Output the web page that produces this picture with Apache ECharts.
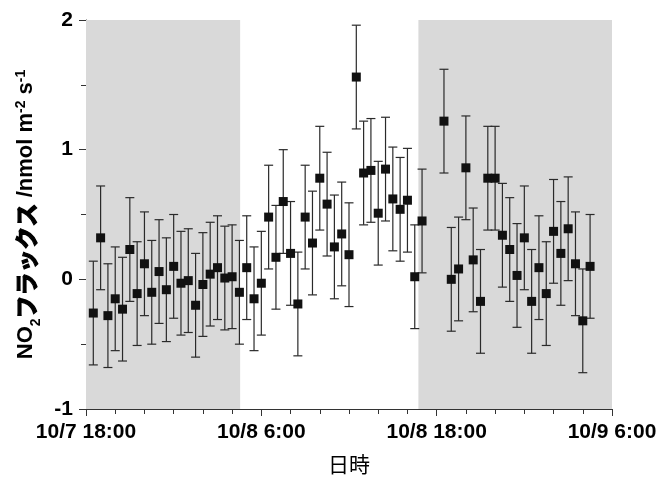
<!DOCTYPE html>
<html>
<head>
<meta charset="utf-8">
<script src="https://cdn.jsdelivr.net/npm/echarts@6/dist/echarts.min.js"></script>
<style>
html,body{margin:0;padding:0;background:#fff;}
#chart{width:662px;height:477px;}
</style>
</head>
<body>
<div id="chart"></div>
<script>
// 時刻 (10/7 18:00 からの経過時間 [h])
const hours = [
  0.5, 1, 1.5, 2, 2.5, 3, 3.5, 4, 4.5, 5, 5.5, 6, 6.5, 7, 7.5, 8, 8.5, 9, 9.5, 10, 10.5,
  11, 11.5, 12, 12.5, 13, 13.5, 14, 14.5, 15, 15.5, 16, 16.5, 17, 17.5, 18, 18.5, 19, 19.5, 20, 20.5, 21, 21.5, 22, 22.5, 23,
  24.5, 25, 25.5, 26, 26.5, 27, 27.5, 28, 28.5, 29, 29.5, 30, 30.5, 31, 31.5, 32, 32.5, 33, 33.5, 34, 34.5
];
// NO2フラックス
const flux = [
  -0.26, 0.32, -0.28, -0.15, -0.23, 0.23, -0.11, 0.12, -0.10, 0.06, -0.08, 0.10, -0.03, -0.01, -0.20, -0.04, 0.04, 0.09, 0.01, 0.02, -0.10,
  0.09, -0.15, -0.03, 0.48, 0.17, 0.60, 0.20, -0.19, 0.48, 0.28, 0.78, 0.58, 0.25, 0.35, 0.19, 1.56, 0.82, 0.84, 0.51, 0.85, 0.62, 0.54, 0.61, 0.02, 0.45,
  1.22, 0.00, 0.08, 0.86, 0.15, -0.17, 0.78, 0.78, 0.34, 0.23, 0.03, 0.32, -0.17, 0.09, -0.11, 0.37, 0.20, 0.39, 0.12, -0.32, 0.10
];
const errHalf = 0.40;           // エラーバー (±)
const nightBands = [[0, 10.55], [22.75, 36]];
const xTickLabels = ['10/7 18:00', '10/8 6:00', '10/8 18:00', '10/9 6:00'];

const FONT = '"Liberation Sans", Arial, "Noto Sans CJK JP", sans-serif';
const CJK = '"Noto Sans CJK JP", sans-serif';

const chart = echarts.init(document.getElementById('chart'), null, {renderer: 'canvas'});

const pts = hours.map((h, i) => [h, flux[i], errHalf]);

const option = {
  animation: false,
  backgroundColor: '#fff',
  grid: {left: 86, right: 50, top: 20, bottom: 68, containLabel: false, outerBoundsMode: 'none'},
  xAxis: {
    type: 'value',
    min: 0, max: 36, interval: 12,
    name: '日時',
    nameLocation: 'middle',
    nameGap: 45,
    nameTextStyle: {fontFamily: CJK, fontSize: 21, color: '#000'},
    axisLine: {show: true, onZero: false, lineStyle: {color: '#333', width: 1}},
    axisTick: {show: true, length: 7, lineStyle: {color: '#333'}},
    minorTick: {show: true, splitNumber: 6, length: 5, lineStyle: {color: '#333'}},
    splitLine: {show: false},
    axisLabel: {
      margin: 13,
      fontFamily: FONT, fontSize: 21, fontWeight: 'bold', color: '#000',
      formatter: v => xTickLabels[Math.round(v / 12)]
    }
  },
  yAxis: {
    type: 'value',
    min: -1, max: 2, interval: 1,
    name: '{b|NO}{sub|2}{j|フラックス}{b| /nmol m}{sup|-2}{b| s}{sup|-1}',
    nameLocation: 'middle',
    nameGap: 36,
    nameRotate: 90,
    nameTextStyle: {
      fontFamily: FONT, fontSize: 22, fontWeight: 'bold', color: '#000',
      rich: {
        b: {fontFamily: FONT, fontSize: 22, fontWeight: 'bold', color: '#000'},
        j: {fontFamily: CJK, fontSize: 23, fontWeight: 'bold', color: '#000', textBorderColor: '#000', textBorderWidth: 1.2},
        sub: {fontFamily: FONT, fontSize: 14, fontWeight: 'bold', color: '#000', verticalAlign: 'bottom', padding: [0, 0, -6, 0]},
        sup: {fontFamily: FONT, fontSize: 14, fontWeight: 'bold', color: '#000', verticalAlign: 'top'}
      }
    },
    axisLine: {show: true, onZero: false, lineStyle: {color: '#333', width: 1}},
    axisTick: {show: true, length: 7, lineStyle: {color: '#333'}},
    minorTick: {show: true, splitNumber: 2, length: 5, lineStyle: {color: '#333'}},
    splitLine: {show: false},
    axisLabel: {margin: 13, fontFamily: FONT, fontSize: 21, fontWeight: 'bold', color: '#000'}
  },
  series: [
    {
      // 夜間の網掛け
      type: 'line',
      data: [],
      z: 1,
      silent: true,
      markArea: {
        silent: true,
        itemStyle: {color: '#d9d9d9'},
        data: nightBands.map(b => [{xAxis: b[0]}, {xAxis: b[1]}])
      }
    },
    {
      // エラーバー
      type: 'custom',
      z: 2,
      silent: true,
      data: pts,
      renderItem: function (params, api) {
        const x = api.value(0), y = api.value(1), e = api.value(2);
        const top = api.coord([x, y + e]);
        const bot = api.coord([x, y - e]);
        const hw = 4.5;
        const st = {stroke: '#2a2a2a', lineWidth: 1.2};
        return {
          type: 'group',
          children: [
            {type: 'line', shape: {x1: top[0], y1: top[1], x2: bot[0], y2: bot[1]}, style: st},
            {type: 'line', shape: {x1: top[0] - hw, y1: top[1], x2: top[0] + hw, y2: top[1]}, style: st},
            {type: 'line', shape: {x1: bot[0] - hw, y1: bot[1], x2: bot[0] + hw, y2: bot[1]}, style: st}
          ]
        };
      }
    },
    {
      type: 'scatter',
      z: 3,
      symbol: 'rect',
      symbolSize: 9,
      itemStyle: {color: '#111', opacity: 1},
      data: pts.map(p => [p[0], p[1]])
    }
  ]
};

chart.setOption(option);
</script>
</body>
</html>
